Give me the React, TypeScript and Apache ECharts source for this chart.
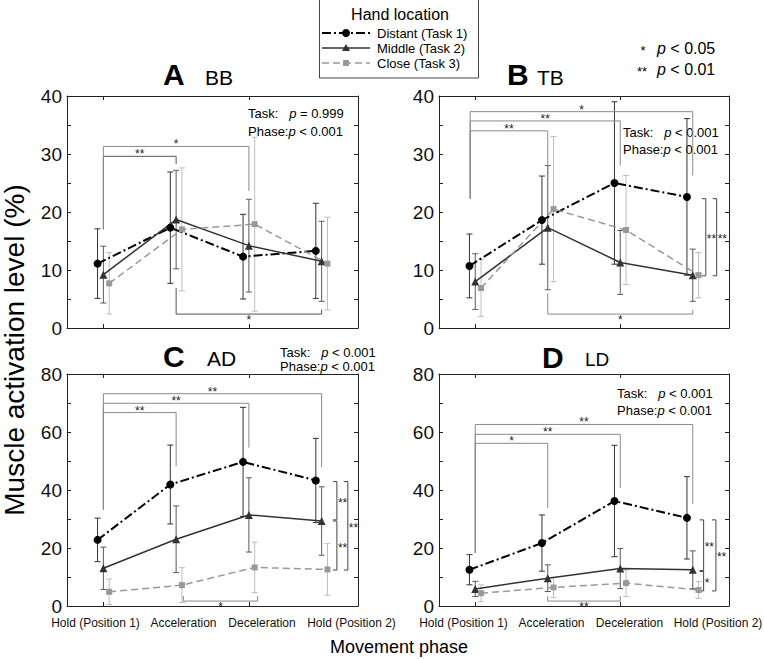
import React, { useEffect, useRef } from 'react';
import * as echarts from 'echarts';

// ---------- data ----------
const phases = ['Hold (Position 1)', 'Acceleration', 'Deceleration', 'Hold (Position 2)'];
const taskNames = ['Distant (Task 1)', 'Middle (Task 2)', 'Close (Task 3)'];

// BB (panel A)
const bbDistant = [11.1, 17.3, 12.3, 13.3];
const bbDistantSd = [6.0, 9.6, 7.3, 8.2];
const bbMiddle = [9.2, 18.7, 14.2, 11.5];
const bbMiddleSd = [4.9, 8.5, 8.0, 6.9];
const bbClose = [7.7, 17.0, 17.9, 11.1];
const bbCloseSd = [5.3, 10.6, 15.0, 8.0];
const bbBrackets = [[0, 1, 29.6, 17.0, 28.3], [0, 2, 31.3, 17.0, 23.6], [1, 3, 2.4, 6.9, 3.2]];
const bbBracketLabels = ['**', '*', '*'];
const bbVBrackets: number[][] = [];
const bbVBracketLabels: string[] = [];

// TB (panel B)
const tbDistant = [10.7, 18.6, 25.0, 22.6];
const tbDistantSd = [5.5, 7.6, 14.0, 13.5];
const tbMiddle = [8.0, 17.3, 11.3, 9.1];
const tbMiddleSd = [4.8, 10.7, 5.5, 4.5];
const tbClose = [6.9, 20.5, 16.9, 9.1];
const tbCloseSd = [4.9, 12.5, 9.4, 3.9];
const tbBrackets = [[-0.07, 1, 34.0, 22.3, 26.5], [-0.07, 2, 35.7, 22.3, 28.0], [-0.07, 3, 37.3, 22.3, 26.3], [1, 3, 2.4, 6.0, 3.1]];
const tbBracketLabels = ['**', '**', '*', '*'];
const tbVBrackets = [[3.18, 22.3, 9.0], [3.33, 22.3, 9.0]];
const tbVBracketLabels = ['**', '**'];

// AD (panel C)
const adDistant = [22.8, 41.9, 49.7, 43.3];
const adDistantSd = [7.5, 13.6, 18.8, 14.5];
const adMiddle = [13.0, 23.0, 31.4, 29.3];
const adMiddleSd = [7.3, 11.5, 12.8, 11.8];
const adClose = [4.9, 7.2, 13.3, 12.6];
const adCloseSd = [4.4, 6.0, 8.7, 8.9];
const adBrackets = [[0, 1, 66.7, 33.2, 48.2], [0, 2, 69.9, 33.2, 54.6], [0, 3, 73.2, 33.2, 47.9], [1.1, 2.12, 1.7, 3.4, 3.4]];
const adBracketLabels = ['**', '**', '**', '*'];
const adVBrackets = [[3.21, 42.9, 29.7], [3.21, 29.3, 12.4], [3.36, 42.9, 12.4]];
const adVBracketLabels = ['**', '**', '**'];

// LD (panel D)
const ldDistant = [12.5, 21.7, 36.2, 30.4];
const ldDistantSd = [5.2, 9.7, 19.2, 14.2];
const ldMiddle = [5.9, 9.6, 12.9, 12.5];
const ldMiddleSd = [2.6, 4.6, 6.9, 6.5];
const ldClose = [4.4, 6.4, 7.9, 5.5];
const ldCloseSd = [2.9, 3.5, 4.6, 2.9];
const ldBrackets = [[0, 1, 56.1, 18.3, 33.8], [0, 2, 59.2, 18.3, 40.7], [0, 3, 62.6, 18.3, 35.2], [1, 2, 1.7, 3.4, 3.4]];
const ldBracketLabels = ['*', '**', '**', '**'];
const ldVBrackets = [[3.15, 29.7, 12.2], [3.15, 11.9, 5.2], [3.32, 29.7, 5.2]];
const ldVBracketLabels = ['**', '*', '**'];

const panelLetters = ['A', 'B', 'C', 'D'];
const muscleNames = ['BB', 'TB', 'AD', 'LD'];
const yMaxes = [40, 40, 80, 80];
const taskP = ['= 0.999', '< 0.001', '< 0.001', '< 0.001'];
const phaseP = ['< 0.001', '< 0.001', '< 0.001', '< 0.001'];

// ---------- styling / layout ----------
const FONT = '"Liberation Sans", Arial, Helvetica, sans-serif';
const AX = '#222';
const DARK = '#555';
const GRAY = '#8a8a8a';

const layout = [
  { grid: { left: 67, top: 96, width: 291, height: 232 }, step: 5, lab: 10, letter: [163, 74], muscle: [205, 77], mFont: 21, task: { x: 248, y: 113, y2: 131 }, brTone: [DARK, GRAY, DARK], xl: null as null | number[] },
  { grid: { left: 439, top: 96, width: 290, height: 232 }, step: 5, lab: 10, letter: [507, 74], muscle: [537, 77], mFont: 21, task: { x: 623, y: 132, y2: 149 }, brTone: [GRAY, GRAY, GRAY, GRAY], xl: null },
  { grid: { left: 67, top: 374, width: 291, height: 232 }, step: 10, lab: 20, letter: [163, 356], muscle: [207, 358], mFont: 21, task: { x: 280, y: 352, y2: 366 }, brTone: [GRAY, GRAY, GRAY, GRAY], xl: [95.5, 183.5, 262, 351.5] },
  { grid: { left: 439, top: 374, width: 290, height: 232 }, step: 10, lab: 20, letter: [542, 357], muscle: [585, 359], mFont: 19, task: { x: 617, y: 393, y2: 410 }, brTone: [GRAY, GRAY, GRAY, GRAY], xl: [463.5, 551.5, 629.5, 718] },
];

const seriesStyle = [
  { off: -0.08, color: '#000', err: '#333', symbol: 'circle', size: 8, width: 2, dash: [9, 3, 2, 3] as any },
  { off: 0, color: '#333', err: '#5a5a5a', symbol: 'triangle', size: 8, width: 1.5, dash: 'solid' as any },
  { off: 0.08, color: '#999', err: '#bdbdbd', symbol: 'rect', size: 6, width: 1.5, dash: [7, 4] as any },
];

function buildOption() {
  const panels = [
    { means: [bbDistant, bbMiddle, bbClose], sds: [bbDistantSd, bbMiddleSd, bbCloseSd], br: bbBrackets, brLab: bbBracketLabels, vbr: bbVBrackets, vbrLab: bbVBracketLabels },
    { means: [tbDistant, tbMiddle, tbClose], sds: [tbDistantSd, tbMiddleSd, tbCloseSd], br: tbBrackets, brLab: tbBracketLabels, vbr: tbVBrackets, vbrLab: tbVBracketLabels },
    { means: [adDistant, adMiddle, adClose], sds: [adDistantSd, adMiddleSd, adCloseSd], br: adBrackets, brLab: adBracketLabels, vbr: adVBrackets, vbrLab: adVBracketLabels },
    { means: [ldDistant, ldMiddle, ldClose], sds: [ldDistantSd, ldMiddleSd, ldCloseSd], br: ldBrackets, brLab: ldBracketLabels, vbr: ldVBrackets, vbrLab: ldVBracketLabels },
  ];

  const grid: any[] = [];
  const xAxis: any[] = [];
  const yAxis: any[] = [];
  const series: any[] = [];
  const graphic: any[] = [];

  panels.forEach((pd, p) => {
    const L = layout[p];
    grid.push({ ...L.grid, containLabel: false });
    const catBase = {
      type: 'category', gridIndex: p, data: phases, boundaryGap: true,
      axisLine: { show: true, onZero: false, lineStyle: { color: AX, width: 1 } },
      axisTick: { show: true, inside: true, alignWithLabel: true, length: 4, lineStyle: { color: AX } },
      axisLabel: { show: false }, splitLine: { show: false },
    };
    xAxis.push({ ...catBase, position: 'bottom' });
    xAxis.push({ ...catBase, position: 'top' });
    xAxis.push({ type: 'value', gridIndex: p, min: -0.5, max: 3.5, show: false });
    const lab = L.lab;
    const yBase = {
      type: 'value', gridIndex: p, min: 0, max: yMaxes[p], interval: L.step,
      axisLine: { show: true, onZero: false, lineStyle: { color: AX, width: 1 } },
      axisTick: { show: true, inside: true, length: 4, lineStyle: { color: AX } },
      splitLine: { show: false },
    };
    yAxis.push({
      ...yBase, position: 'left',
      axisLabel: { show: true, margin: 5, fontSize: 19, color: '#111', fontFamily: FONT, formatter: (v: number) => (v % lab === 0 ? String(v) : '') },
    });
    yAxis.push({ ...yBase, position: 'right', axisLabel: { show: false } });

    const xi = 3 * p + 2;
    const yi = 2 * p;

    // error bars
    pd.means.forEach((m, k) => {
      const st = seriesStyle[k];
      series.push({
        type: 'custom', name: taskNames[k] + ' SD', xAxisIndex: xi, yAxisIndex: yi, z: 2, silent: true, clip: false,
        data: m.map((v, i) => [i + st.off, v - pd.sds[k][i], v + pd.sds[k][i]]),
        encode: { x: 0, y: [1, 2] },
        renderItem: (_params: any, api: any) => {
          const x = api.value(0), lo = api.value(1), hi = api.value(2);
          const a = api.coord([x, hi]);
          const b = api.coord([x, lo]);
          const w = 3;
          const s = { stroke: st.err, lineWidth: 1 };
          return {
            type: 'group', children: [
              { type: 'line', shape: { x1: a[0], y1: a[1], x2: b[0], y2: b[1] }, style: s },
              { type: 'line', shape: { x1: a[0] - w, y1: a[1], x2: a[0] + w, y2: a[1] }, style: s },
              { type: 'line', shape: { x1: b[0] - w, y1: b[1], x2: b[0] + w, y2: b[1] }, style: s },
            ],
          };
        },
      });
    });

    // lines
    pd.means.forEach((m, k) => {
      const st = seriesStyle[k];
      series.push({
        type: 'line', name: taskNames[k], xAxisIndex: xi, yAxisIndex: yi, z: 5, silent: true,
        data: m.map((v, i) => [i + st.off, v]),
        symbol: st.symbol, symbolSize: st.size, showSymbol: true,
        lineStyle: { color: st.color, width: st.width, type: st.dash },
        itemStyle: { color: st.color, borderWidth: 0 },
      });
    });

    // horizontal brackets
    const brLab = pd.brLab;
    const tone = L.brTone;
    series.push({
      type: 'custom', name: 'brackets', xAxisIndex: xi, yAxisIndex: yi, z: 3, silent: true, clip: false,
      data: pd.br,
      encode: { x: [0, 1], y: [2, 3, 4] },
      renderItem: (params: any, api: any) => {
        const x1 = api.value(0), x2 = api.value(1), y = api.value(2), y1 = api.value(3), y2 = api.value(4);
        const p1 = api.coord([x1, y1]), p2 = api.coord([x1, y]), p3 = api.coord([x2, y]), p4 = api.coord([x2, y2]);
        const below = y1 > y;
        const idx = params.dataIndex;
        return {
          type: 'group', children: [
            { type: 'polyline', shape: { points: [p1, p2, p3, p4] }, style: { stroke: tone[idx] || GRAY, lineWidth: 1, fill: 'none' } },
            {
              type: 'text', style: {
                text: brLab[idx], x: (p2[0] + p3[0]) / 2, y: below ? p2[1] + 6 : p2[1] - 2,
                align: 'center', verticalAlign: 'middle', textAlign: 'center', textVerticalAlign: 'middle',
                fontSize: 12, fontFamily: FONT, fill: '#222',
              },
            },
          ],
        };
      },
    });

    // vertical brackets
    if (pd.vbr.length) {
      const vLab = pd.vbrLab;
      series.push({
        type: 'custom', name: 'vbrackets', xAxisIndex: xi, yAxisIndex: yi, z: 3, silent: true, clip: false,
        data: pd.vbr,
        encode: { x: 0, y: [1, 2] },
        renderItem: (params: any, api: any) => {
          const x = api.value(0), ya = api.value(1), yb = api.value(2);
          const a = api.coord([x, ya]);
          const b = api.coord([x, yb]);
          const t = 4;
          return {
            type: 'group', children: [
              { type: 'polyline', shape: { points: [[a[0] - t, a[1]], a, b, [b[0] - t, b[1]]] }, style: { stroke: '#444', lineWidth: 1, fill: 'none' } },
              {
                type: 'text', style: {
                  text: vLab[params.dataIndex], x: a[0] + 1, y: (a[1] + b[1]) / 2 + 2,
                  align: 'left', verticalAlign: 'middle', textAlign: 'left', textVerticalAlign: 'middle',
                  fontSize: 12, fontFamily: FONT, fill: '#222',
                },
              },
            ],
          };
        },
      });
    }

    // titles
    graphic.push({ type: 'text', x: L.letter[0], y: L.letter[1], style: { text: panelLetters[p], fontSize: 30, fontWeight: 'bold', fontFamily: FONT, fill: '#000', verticalAlign: 'middle', textVerticalAlign: 'middle' } });
    graphic.push({ type: 'text', x: L.muscle[0], y: L.muscle[1], style: { text: muscleNames[p], fontSize: L.mFont, fontFamily: FONT, fill: '#000', verticalAlign: 'middle', textVerticalAlign: 'middle' } });
    // stats
    const rich = { i: { fontStyle: 'italic', fontSize: 13, fontFamily: FONT, fill: '#000' } };
    graphic.push({ type: 'text', x: L.task.x, y: L.task.y, style: { text: 'Task:   {i|p} ' + taskP[p], rich, fontSize: 13, fontFamily: FONT, fill: '#000', verticalAlign: 'middle', textVerticalAlign: 'middle' } });
    graphic.push({ type: 'text', x: L.task.x, y: L.task.y2, style: { text: 'Phase:{i|p} ' + phaseP[p], rich, fontSize: 13, fontFamily: FONT, fill: '#000', verticalAlign: 'middle', textVerticalAlign: 'middle' } });

    // category labels
    if (L.xl) {
      L.xl.forEach((cx, i) => {
        graphic.push({ type: 'text', x: cx, y: 623, style: { text: phases[i], fontSize: 12, fontFamily: FONT, fill: '#111', align: 'center', textAlign: 'center', verticalAlign: 'middle', textVerticalAlign: 'middle' } });
      });
    }
  });

  // axis titles
  graphic.push({ type: 'text', x: 14, y: 350, rotation: Math.PI / 2, style: { text: 'Muscle activation level (%)', fontSize: 28, fontFamily: FONT, fill: '#000', align: 'center', textAlign: 'center', verticalAlign: 'middle', textVerticalAlign: 'middle' } });
  graphic.push({ type: 'text', x: 399, y: 647, style: { text: 'Movement phase', fontSize: 18, fontFamily: FONT, fill: '#000', align: 'center', textAlign: 'center', verticalAlign: 'middle', textVerticalAlign: 'middle' } });

  // legend box
  graphic.push({ type: 'rect', shape: { x: 319.5, y: -1, width: 159, height: 79 }, style: { fill: '#fff', stroke: '#444', lineWidth: 1 }, z: 10 });
  graphic.push({ type: 'text', x: 400, y: 14, z: 11, style: { text: 'Hand location', fontSize: 16, fontFamily: FONT, fill: '#000', align: 'center', textAlign: 'center', verticalAlign: 'middle', textVerticalAlign: 'middle' } });
  const ly = [33, 48, 63];
  seriesStyle.forEach((st, k) => {
    graphic.push({ type: 'line', z: 11, shape: { x1: 322, y1: ly[k], x2: 370, y2: ly[k] }, style: { stroke: st.color, lineWidth: st.width, lineDash: Array.isArray(st.dash) ? st.dash : null } });
    if (k === 0) graphic.push({ type: 'circle', z: 12, shape: { cx: 346, cy: ly[k], r: 4 }, style: { fill: st.color } });
    if (k === 1) graphic.push({ type: 'polygon', z: 12, shape: { points: [[346, ly[k] - 4], [350, ly[k] + 3], [342, ly[k] + 3]] }, style: { fill: st.color } });
    if (k === 2) graphic.push({ type: 'rect', z: 12, shape: { x: 343, y: ly[k] - 3, width: 6, height: 6 }, style: { fill: st.color } });
    graphic.push({ type: 'text', z: 11, x: 377, y: ly[k], style: { text: taskNames[k], fontSize: 13, fontFamily: FONT, fill: '#000', verticalAlign: 'middle', textVerticalAlign: 'middle' } });
  });

  // significance legend
  const rich2 = { i: { fontStyle: 'italic', fontSize: 16, fontFamily: FONT, fill: '#000' } };
  graphic.push({ type: 'text', x: 643, y: 50, style: { text: '*', fontSize: 13, fontFamily: FONT, fill: '#000', align: 'center', textAlign: 'center', verticalAlign: 'middle', textVerticalAlign: 'middle' } });
  graphic.push({ type: 'text', x: 657, y: 48, style: { text: '{i|p} < 0.05', rich: rich2, fontSize: 16, fontFamily: FONT, fill: '#000', verticalAlign: 'middle', textVerticalAlign: 'middle' } });
  graphic.push({ type: 'text', x: 642, y: 71, style: { text: '**', fontSize: 13, fontFamily: FONT, fill: '#000', align: 'center', textAlign: 'center', verticalAlign: 'middle', textVerticalAlign: 'middle' } });
  graphic.push({ type: 'text', x: 657, y: 69, style: { text: '{i|p} < 0.01', rich: rich2, fontSize: 16, fontFamily: FONT, fill: '#000', verticalAlign: 'middle', textVerticalAlign: 'middle' } });

  return {
    animation: false,
    backgroundColor: '#fff',
    textStyle: { fontFamily: FONT },
    grid, xAxis, yAxis, series, graphic,
  };
}

export default function App() {
  const ref = useRef<HTMLDivElement>(null);
  useEffect(() => {
    const chart = echarts.init(ref.current!, null, { renderer: 'svg' });
    chart.setOption(buildOption() as any);
    return () => chart.dispose();
  }, []);
  return <div ref={ref} style={{ position: 'absolute', left: 0, top: 0, width: 764, height: 659 }} />;
}
